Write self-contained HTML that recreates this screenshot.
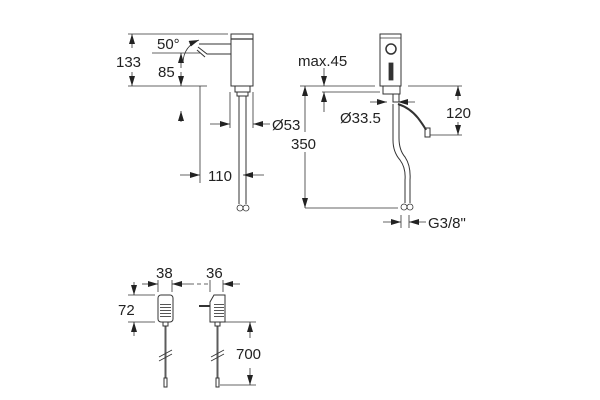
<!DOCTYPE html>
<html><head><style>
html,body{margin:0;padding:0;background:#fff;width:600px;height:400px;overflow:hidden}
svg text{font-family:"Liberation Sans",sans-serif;font-size:15px;fill:#222}
</style></head><body>
<svg width="600" height="400" viewBox="0 0 600 400" xmlns="http://www.w3.org/2000/svg">
<defs>
<marker id="a" markerWidth="10" markerHeight="6" refX="10" refY="3" orient="auto" markerUnits="userSpaceOnUse"><path d="M0,0 L10,3 L0,6 z" fill="#222"/></marker>
<pattern id="h" width="3" height="3" patternUnits="userSpaceOnUse"><line x1="0" y1="1.5" x2="3" y2="1.5" stroke="#555" stroke-width="1"/></pattern>
</defs>
<g stroke="#333" stroke-width="0.8" fill="none">
<line x1="128" y1="34" x2="228" y2="34"/>
<line x1="128" y1="86" x2="207" y2="86"/>
<line x1="152" y1="53" x2="200" y2="53"/>
<line x1="132" y1="48" x2="132" y2="34" marker-end="url(#a)"/>
<line x1="132" y1="72" x2="132" y2="86" marker-end="url(#a)"/>
<line x1="181" y1="68" x2="181" y2="53" marker-end="url(#a)"/>
<line x1="181" y1="72" x2="181" y2="86" marker-end="url(#a)"/>
<line x1="181" y1="122" x2="181" y2="111" marker-end="url(#a)"/>
<rect x="231" y="34" width="22" height="52" stroke-width="1"/>
<line x1="231" y1="39" x2="253" y2="39" stroke-width="1.2"/>
<path d="M231,44 L199,44 M231,54 L207,54 L198,47" stroke-width="1"/>
<path d="M197,50 L205,57" stroke-width="1"/>
<path d="M183,62 Q184,46 199,40" marker-end="url(#a)"/>
<rect x="235" y="86" width="15" height="6" stroke-width="1"/>
<rect x="237" y="92" width="11" height="4" stroke-width="1"/>
<line x1="239" y1="96" x2="239" y2="204" stroke-width="1"/>
<line x1="246" y1="96" x2="246" y2="204" stroke-width="1"/>
<circle cx="240" cy="208" r="3"/><circle cx="246" cy="208" r="3"/>
<line x1="200" y1="86" x2="200" y2="183"/>
<line x1="230" y1="92" x2="230" y2="128"/>
<line x1="253" y1="92" x2="253" y2="128"/>
<line x1="210" y1="124" x2="230" y2="124" marker-end="url(#a)"/>
<line x1="270" y1="124" x2="253" y2="124" marker-end="url(#a)"/>
<line x1="180" y1="175" x2="200" y2="175" marker-end="url(#a)"/>
<line x1="264" y1="175" x2="243" y2="175" marker-end="url(#a)"/>
<rect x="380" y="34" width="21" height="52" stroke-width="1"/>
<line x1="380" y1="38" x2="401" y2="38"/>
<circle cx="391" cy="49" r="5" stroke-width="1.5"/>
<rect x="389" y="63" width="4" height="17" fill="#333"/>
<rect x="383" y="86" width="17" height="8" stroke-width="1"/>
<rect x="393" y="94" width="6" height="8" stroke-width="1"/>
<path d="M393,104 L393,140 Q393,152 400,160 Q406,168 405,180 L405,203 M399,104 L399,138 Q399,150 405,157 Q411,166 410,180 L410,203" stroke-width="1"/>
<circle cx="404" cy="207" r="3"/><circle cx="410" cy="207" r="3"/>
<path d="M398,104 Q410,108 418,118 Q424,126 426,130" stroke-width="2"/>
<rect x="425" y="128" width="5" height="9" stroke-width="1"/>
<line x1="300" y1="86" x2="375" y2="86"/>
<line x1="322" y1="92" x2="380" y2="92"/>
<line x1="324" y1="68" x2="324" y2="86" marker-end="url(#a)"/>
<line x1="324" y1="112" x2="324" y2="92" marker-end="url(#a)"/>
<line x1="305" y1="100" x2="305" y2="86" marker-end="url(#a)"/>
<line x1="305" y1="190" x2="305" y2="208" marker-end="url(#a)"/>
<line x1="305" y1="100" x2="305" y2="132"/><line x1="305" y1="152" x2="305" y2="190"/>
<line x1="370" y1="102" x2="387" y2="102" marker-end="url(#a)"/>
<line x1="415" y1="102" x2="398" y2="102" marker-end="url(#a)"/>
<line x1="408" y1="86" x2="462" y2="86"/>
<line x1="430" y1="135" x2="462" y2="135"/>
<line x1="458" y1="100" x2="458" y2="86" marker-end="url(#a)"/>
<line x1="458" y1="122" x2="458" y2="135" marker-end="url(#a)"/>
<line x1="305" y1="208" x2="398" y2="208"/>
<line x1="401" y1="215" x2="401" y2="228"/><line x1="409" y1="215" x2="409" y2="228"/>
<line x1="383" y1="222" x2="401" y2="222" marker-end="url(#a)"/>
<line x1="426" y1="222" x2="409" y2="222" marker-end="url(#a)"/>
<line x1="158" y1="280" x2="158" y2="292"/><line x1="172" y1="280" x2="172" y2="292"/>
<line x1="142" y1="284" x2="158" y2="284" marker-end="url(#a)"/>
<line x1="190" y1="284" x2="172" y2="284" marker-end="url(#a)"/>
<line x1="190" y1="284" x2="208" y2="284" stroke-dasharray="4,3"/>
<line x1="210" y1="280" x2="210" y2="292"/><line x1="223" y1="280" x2="223" y2="292"/>
<line x1="240" y1="284" x2="223" y2="284" marker-end="url(#a)"/>
<line x1="128" y1="295" x2="155" y2="295"/><line x1="128" y1="322" x2="155" y2="322"/>
<line x1="134" y1="282" x2="134" y2="295" marker-end="url(#a)"/>
<line x1="134" y1="336" x2="134" y2="322" marker-end="url(#a)"/>
<rect x="158" y="295" width="15" height="27" rx="3" stroke-width="1"/>
<rect x="160" y="304" width="11" height="13" fill="url(#h)" stroke="none"/>
<rect x="163" y="322" width="5" height="4" stroke-width="1"/>
<line x1="165" y1="326" x2="165" y2="378"/><line x1="166" y1="326" x2="166" y2="378"/>
<line x1="159" y1="357" x2="172" y2="350"/><line x1="159" y1="361" x2="172" y2="354"/>
<rect x="164" y="378" width="3" height="9" stroke-width="1"/>
<path d="M210,302 L214,295 L225,295 L225,322 L210,322 Z" stroke-width="1"/>
<rect x="214" y="302" width="10" height="16" fill="url(#h)" stroke="none"/>
<line x1="199" y1="306" x2="210" y2="306" stroke-width="2"/>
<rect x="215" y="322" width="5" height="4" stroke-width="1"/>
<line x1="217" y1="326" x2="217" y2="378"/><line x1="218" y1="326" x2="218" y2="378"/>
<line x1="211" y1="357" x2="224" y2="350"/><line x1="211" y1="361" x2="224" y2="354"/>
<rect x="216" y="378" width="3" height="9" stroke-width="1"/>
<line x1="225" y1="322" x2="256" y2="322"/><line x1="220" y1="385" x2="256" y2="385"/>
<line x1="250" y1="338" x2="250" y2="322" marker-end="url(#a)"/>
<line x1="250" y1="368" x2="250" y2="385" marker-end="url(#a)"/>
</g>
<text x="116" y="67">133</text>
<text x="157" y="49">50°</text>
<text x="158" y="77">85</text>
<text x="272" y="130">Ø53</text>
<text x="208" y="181">110</text>
<text x="298" y="66">max.45</text>
<text x="340" y="123">Ø33.5</text>
<text x="291" y="149">350</text>
<text x="446" y="118">120</text>
<text x="428" y="228">G3/8"</text>
<text x="156" y="278">38</text>
<text x="206" y="278">36</text>
<text x="118" y="315">72</text>
<text x="236" y="359">700</text>
</svg>
</body></html>
